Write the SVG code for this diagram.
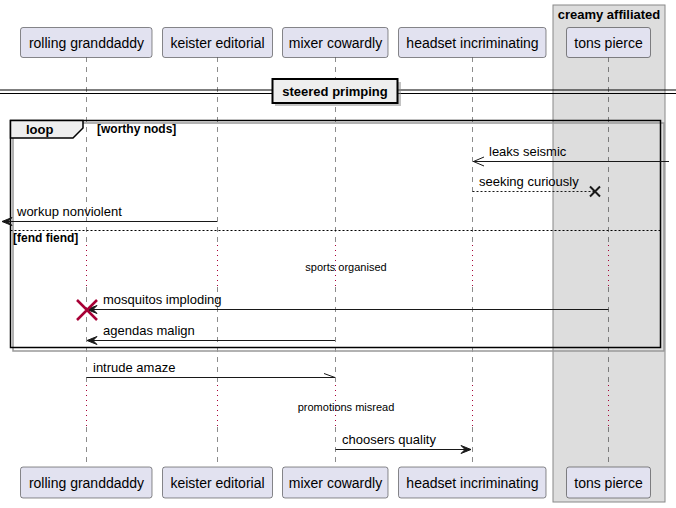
<svg xmlns="http://www.w3.org/2000/svg" width="676" height="508" viewBox="0 0 676 508">
<style>
.p rect{fill:#E2E2F0;stroke:#181818;stroke-width:0.5}
.p text{font-family:"Liberation Sans",Arial,sans-serif;font-size:14px;fill:#000;text-anchor:middle}
.life{stroke:#181818;stroke-width:0.5;stroke-dasharray:5,5;fill:none}
.delay{stroke:#A80036;stroke-width:1;stroke-dasharray:1,4;fill:none}
.msg{font-family:"Liberation Sans",Arial,sans-serif;font-size:13px;fill:#000}
.small{font-family:"Liberation Sans",Arial,sans-serif;font-size:11px;fill:#000}
.bold{font-family:"Liberation Sans",Arial,sans-serif;font-weight:bold;fill:#000}
.ln{stroke:#181818;stroke-width:1;fill:none}
.dash{stroke:#181818;stroke-width:1;stroke-dasharray:2,2;fill:none}
.head{fill:#181818;stroke:#181818;stroke-width:1}
</style>
<g id="group-creamy-affiliated">
<rect x="553" y="5" width="112" height="497" fill="#DDDDDD" stroke="#888888" stroke-width="1"/>
<text class="bold" x="609" y="19" font-size="13" text-anchor="middle">creamy affiliated</text>
</g>
<g id="lifelines">
<line class="life" x1="86.5" y1="57" x2="86.5" y2="467"/>
<line class="life" x1="217.5" y1="57" x2="217.5" y2="467"/>
<line class="life" x1="335.5" y1="57" x2="335.5" y2="467"/>
<line class="life" x1="472.5" y1="57" x2="472.5" y2="467"/>
<line class="life" x1="608.5" y1="57" x2="608.5" y2="467"/>
</g>
<g id="delays" fill="#fff">
<rect x="84" y="245" width="5" height="42" fill="#fff"/>
<rect x="215" y="245" width="5" height="42" fill="#fff"/>
<rect x="333" y="245" width="5" height="42" fill="#fff"/>
<rect x="470" y="245" width="5" height="42" fill="#fff"/>
<rect x="606" y="245" width="5" height="42" fill="#DDDDDD"/>
<line class="delay" x1="86.5" y1="245" x2="86.5" y2="287"/>
<line class="delay" x1="217.5" y1="245" x2="217.5" y2="287"/>
<line class="delay" x1="335.5" y1="245" x2="335.5" y2="287"/>
<line class="delay" x1="472.5" y1="245" x2="472.5" y2="287"/>
<line class="delay" x1="608.5" y1="245" x2="608.5" y2="287"/>
<rect x="84" y="385" width="5" height="42" fill="#fff"/>
<rect x="215" y="385" width="5" height="42" fill="#fff"/>
<rect x="333" y="385" width="5" height="42" fill="#fff"/>
<rect x="470" y="385" width="5" height="42" fill="#fff"/>
<rect x="606" y="385" width="5" height="42" fill="#DDDDDD"/>
<line class="delay" x1="86.5" y1="385" x2="86.5" y2="427"/>
<line class="delay" x1="217.5" y1="385" x2="217.5" y2="427"/>
<line class="delay" x1="335.5" y1="385" x2="335.5" y2="427"/>
<line class="delay" x1="472.5" y1="385" x2="472.5" y2="427"/>
<line class="delay" x1="608.5" y1="385" x2="608.5" y2="427"/>
<text class="small" x="346" y="271" text-anchor="middle">sports organised</text>
<text class="small" x="346" y="411" text-anchor="middle">promotions misread</text>
</g>
<g id="separator-steered-primping">
<line x1="0" y1="90" x2="676" y2="90" stroke="#000" stroke-width="1.2"/>
<line x1="0" y1="93.5" x2="676" y2="93.5" stroke="#000" stroke-width="1.2"/>
<rect x="275" y="82" width="126" height="24" fill="#888" opacity="0.5"/>
<rect x="272.5" y="79" width="125" height="24" fill="#EEEEEE" stroke="#000" stroke-width="2"/>
<text class="bold" x="335" y="96" font-size="13" text-anchor="middle">steered primping</text>
</g>
<g id="loop-worthy-nods">
<rect x="13" y="123" width="651" height="228" fill="none" stroke="#999" stroke-width="1.5"/>
<rect x="10.5" y="120.5" width="650" height="227" fill="none" stroke="#000" stroke-width="1.5"/>
<path d="M10.5 120.5 H83 V128 L73 138 H10.5 Z" fill="#EEEEEE" stroke="#000" stroke-width="1.5"/>
<text class="bold" x="26" y="134" font-size="13">loop</text>
<text class="bold" x="97" y="133" font-size="12">[worthy nods]</text>
<line x1="10.5" y1="230.5" x2="660.5" y2="230.5" stroke="#000" stroke-width="1" stroke-dasharray="2,2"/>
<text class="bold" x="13" y="242" font-size="12">[fend fiend]</text>
</g>
<g id="connectors">
<line class="ln" x1="669" y1="161.5" x2="473" y2="161.5"/>
<polyline class="ln" points="484,157 473.5,161.5 484,166" stroke-width="2"/>
<text class="msg" x="489" y="156">leaks seismic</text>
<line class="dash" x1="472.5" y1="191.5" x2="595" y2="191.5"/>
<path d="M590 186.5 L600 196.5 M600 186.5 L590 196.5" stroke="#181818" stroke-width="2"/>
<text class="msg" x="479" y="186">seeking curiously</text>
<line class="ln" x1="217" y1="221.5" x2="2" y2="221.5"/>
<polygon class="head" points="2,221.5 12,217.5 8,221.5 12,225.5"/>
<text class="msg" x="17" y="216">workup nonviolent</text>
<line class="ln" x1="608.5" y1="309.5" x2="87" y2="309.5"/>
<polygon class="head" points="87,309.5 97,305.5 93,309.5 97,313.5"/>
<path d="M77 300 L97 320 M97 300 L77 320" stroke="#A80036" stroke-width="2.5"/>
<text class="msg" x="103" y="304">mosquitos imploding</text>
<line class="ln" x1="335" y1="340.5" x2="87" y2="340.5"/>
<polygon class="head" points="87,340.5 97,336.5 93,340.5 97,344.5"/>
<text class="msg" x="103" y="335">agendas malign</text>
<line class="ln" x1="86.5" y1="377.5" x2="335" y2="377.5"/>
<line class="ln" x1="324" y1="373.5" x2="335" y2="377.5"/>
<text class="msg" x="93" y="372">intrude amaze</text>
<line class="ln" x1="335.5" y1="449.5" x2="471" y2="449.5"/>
<polygon class="head" points="471,449.5 461,445.5 465,449.5 461,453.5"/>
<text class="msg" x="342" y="444">choosers quality</text>
</g>
<g id="p-rolling-granddaddy" class="p">
<rect x="20.5" y="27.5" width="131.5" height="30" rx="2.5"/>
<text x="86.5" y="47.5">rolling granddaddy</text>
<rect x="20.5" y="467" width="131.5" height="31" rx="2.5"/>
<text x="86.5" y="487.5">rolling granddaddy</text>
</g>
<g id="p-keister-editorial" class="p">
<rect x="162.5" y="27.5" width="110" height="30" rx="2.5"/>
<text x="217.5" y="47.5">keister editorial</text>
<rect x="162.5" y="467" width="110" height="31" rx="2.5"/>
<text x="217.5" y="487.5">keister editorial</text>
</g>
<g id="p-mixer-cowardly" class="p">
<rect x="282.5" y="27.5" width="105.5" height="30" rx="2.5"/>
<text x="335.5" y="47.5">mixer cowardly</text>
<rect x="282.5" y="467" width="105.5" height="31" rx="2.5"/>
<text x="335.5" y="487.5">mixer cowardly</text>
</g>
<g id="p-headset-incriminating" class="p">
<rect x="398.5" y="27.5" width="147.5" height="30" rx="2.5"/>
<text x="472.5" y="47.5">headset incriminating</text>
<rect x="398.5" y="467" width="147.5" height="31" rx="2.5"/>
<text x="472.5" y="487.5">headset incriminating</text>
</g>
<g id="p-tons-pierce" class="p">
<rect x="566.5" y="27.5" width="84" height="30" rx="2.5"/>
<text x="608.5" y="47.5">tons pierce</text>
<rect x="566.5" y="467" width="84" height="31" rx="2.5"/>
<text x="608.5" y="487.5">tons pierce</text>
</g>
</svg>
